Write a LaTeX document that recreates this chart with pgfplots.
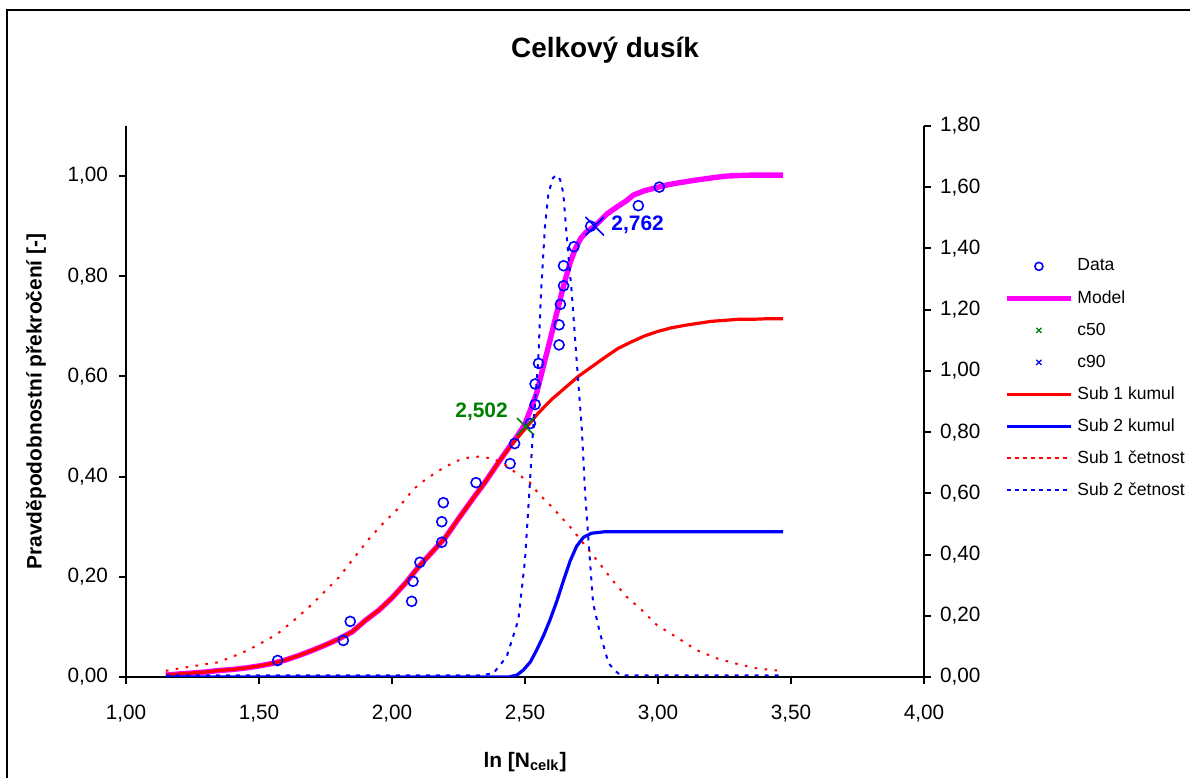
\documentclass[border=0pt]{standalone}
\usepackage{fontspec}
\setmainfont{Liberation Sans}
\usepackage{pgfplots}
\pgfplotsset{compat=1.18}

\definecolor{xlmagenta}{RGB}{255,0,255}
\definecolor{xlgreen}{RGB}{0,128,0}

\pgfplotsset{
  legline/.style={legend image code/.code={\draw[##1] (0bp,0bp) -- (32bp,0bp);}},
  legmark/.style={legend image code/.code={\draw[##1] plot coordinates {(16bp,0bp)};}},
  excelbase/.style={
    scale only axis, width=399bp, height=275.5bp,
    at={(63bp,50.5bp)}, anchor=south west,
    xmin=1, xmax=4, ymin=0,
    axis line style={line width=1bp, black},
    tick style={line width=1bp, black},
    ticklabel style={font=\fontsize{10.4}{12}\selectfont},
    scaled ticks=false,
    /pgf/number format/assume math mode=true,
    /pgf/number format/use comma,
    /pgf/number format/fixed,
    /pgf/number format/fixed zerofill,
    /pgf/number format/precision=2,
  },
}

\begin{document}
\begin{tikzpicture}
\useasboundingbox (0bp,0bp) rectangle (595bp,389bp);
\draw[line width=1bp] (3.5bp,-10bp) -- (3.5bp,384bp) -- (610bp,384bp);

% primary axis: probability of exceedance
\begin{axis}[excelbase,
  ymax=1.1,
  axis x line*=bottom, axis y line*=left,
  tick align=outside, major tick length=3.5bp,
  xtick={1,1.5,2,2.5,3,3.5,4},
  ytick={0,0.2,0.4,0.6,0.8,1},
  xticklabel style={yshift=-6.8bp},
  yticklabel style={xshift=-2bp},
  title={Celkový dusík},
  every axis title shift=0pt,
  title style={at={(axis description cs:0.6003,1.138)}, anchor=center,
    font=\bfseries\fontsize{14}{17}\selectfont},
  xlabel={ln [N\textsubscript{celk}]},
  xlabel style={at={(axis description cs:0.5,-0.1543)}, anchor=center,
    font=\bfseries\fontsize{10.5}{12.6}\selectfont},
  ylabel={Pravděpodobnostní překročení [-]},
  ylabel style={at={(axis description cs:-0.1128,0.5)}, anchor=center,
    font=\bfseries\fontsize{10.5}{12.6}\selectfont},
  legend cell align=left,
  legend style={at={(1.1003,0.775)}, anchor=north west, draw=none, fill=none,
    inner sep=0pt, row sep=0pt, column sep=2bp,
    font=\fontsize{8.8}{10.5}\selectfont,
    nodes={inner sep=0pt, minimum height=16bp}},
  legend entries={Data, Model, c50, c90, Sub 1 kumul, Sub 2 kumul, Sub 1 četnost, Sub 2 četnost},
]
\addlegendimage{legmark, blue, mark=o, mark size=2bp, line width=0.8bp}
\addlegendimage{legline, xlmagenta, line width=2.5bp}
\addlegendimage{legmark, xlgreen, mark=x, mark size=1.8bp, line width=0.6bp}
\addlegendimage{legmark, blue, mark=x, mark size=1.8bp, line width=0.6bp}
\addlegendimage{legline, red, line width=1.6bp}
\addlegendimage{legline, blue, line width=1.6bp}
\addlegendimage{legline, red, line width=1bp, dash pattern=on 2bp off 2bp}
\addlegendimage{legline, blue, line width=1bp, dash pattern=on 2bp off 2bp}

% Model
\addplot[xlmagenta, line width=2.7bp, line join=round, no marks, forget plot] coordinates {
(1.15,0.004)(1.20,0.006)(1.25,0.008)(1.30,0.010)(1.35,0.013)(1.40,0.015)
(1.45,0.018)(1.50,0.022)(1.55,0.027)(1.60,0.034)(1.65,0.043)(1.70,0.053)
(1.75,0.064)(1.80,0.076)(1.85,0.090)(1.90,0.113)(1.95,0.133)(2.00,0.158)
(2.05,0.187)(2.10,0.220)(2.15,0.249)(2.20,0.278)(2.25,0.316)(2.30,0.353)
(2.35,0.389)(2.40,0.428)(2.45,0.466)(2.47,0.480)(2.50,0.505)(2.52,0.533)
(2.544,0.567)(2.569,0.620)(2.594,0.672)(2.619,0.726)(2.644,0.779)(2.669,0.826)
(2.69,0.856)(2.71,0.876)(2.73,0.888)(2.762,0.900)(2.807,0.924)(2.85,0.940)
(2.882,0.951)(2.907,0.962)(2.95,0.971)(2.995,0.977)(3.04,0.983)(3.083,0.987)
(3.13,0.991)(3.17,0.994)(3.21,0.997)(3.258,1.000)(3.30,1.001)(3.358,1.002)
(3.47,1.002)
};
% Sub 1 kumul
\addplot[red, line width=1.6bp, line join=round, no marks, forget plot] coordinates {
(1.15,0.004)(1.20,0.006)(1.25,0.008)(1.30,0.010)(1.35,0.013)(1.40,0.015)
(1.45,0.018)(1.50,0.022)(1.55,0.027)(1.60,0.034)(1.65,0.043)(1.70,0.053)
(1.75,0.064)(1.80,0.076)(1.85,0.090)(1.90,0.113)(1.95,0.133)(2.00,0.158)
(2.05,0.187)(2.10,0.220)(2.15,0.249)(2.20,0.278)(2.25,0.316)(2.30,0.353)
(2.35,0.389)(2.40,0.428)(2.45,0.464)(2.50,0.495)(2.55,0.527)(2.60,0.554)
(2.65,0.577)(2.70,0.600)(2.75,0.619)(2.80,0.638)(2.85,0.656)(2.90,0.669)
(2.95,0.681)(3.00,0.690)(3.05,0.697)(3.10,0.702)(3.15,0.706)(3.20,0.710)
(3.25,0.712)(3.30,0.714)(3.35,0.714)(3.40,0.715)(3.47,0.715)
};
% Sub 2 kumul
\addplot[blue, line width=1.6bp, line join=round, no marks, forget plot] coordinates {
(1.15,0.000)(2.44,0.000)(2.47,0.004)(2.494,0.014)(2.52,0.030)(2.544,0.054)
(2.57,0.083)(2.594,0.114)(2.62,0.152)(2.645,0.193)(2.67,0.232)(2.694,0.261)
(2.72,0.279)(2.75,0.287)(2.80,0.290)(3.47,0.290)
};
% Data
\addplot[only marks, mark=o, mark size=2.5bp, blue, line width=0.8bp, forget plot] coordinates {
(1.570,0.033)(1.817,0.073)(1.843,0.111)(2.074,0.151)(2.079,0.191)
(2.105,0.229)(2.187,0.269)(2.187,0.310)(2.193,0.348)(2.316,0.388)
(2.444,0.426)(2.461,0.466)(2.520,0.506)(2.538,0.544)(2.538,0.585)
(2.551,0.626)(2.628,0.663)(2.628,0.703)(2.633,0.744)(2.645,0.781)
(2.645,0.821)(2.684,0.859)(2.747,0.900)(2.926,0.941)(3.005,0.978)
};
% c50, c90
\addplot[only marks, mark=x, mark size=6bp, xlgreen, line width=0.8bp, forget plot] coordinates {(2.502,0.5)};
\addplot[only marks, mark=x, mark size=6.5bp, blue, line width=0.8bp, forget plot] coordinates {(2.762,0.9)};
\node[anchor=east, text=xlgreen, inner sep=0pt, xshift=-8.7bp, yshift=7.2bp,
  font=\bfseries\fontsize{10.5}{12}\selectfont] at (axis cs:2.502,0.5) {2,502};
\node[anchor=west, text=blue, inner sep=0pt, xshift=8.2bp, yshift=0.5bp,
  font=\bfseries\fontsize{10.5}{12}\selectfont] at (axis cs:2.762,0.9) {2,762};
\end{axis}

% secondary axis: frequencies
\begin{axis}[excelbase,
  ymax=1.8,
  axis y line*=right, axis x line=none,
  tick align=outside, major tick length=3.5bp,
  ytick={0,0.2,0.4,0.6,0.8,1,1.2,1.4,1.6,1.8},
  yticklabel style={xshift=1bp},
]
% Sub 1 cetnost
\addplot[red, line width=1bp, dash pattern=on 1.3bp off 3.7bp, no marks] coordinates {
(1.15,0.020)(1.20,0.028)(1.25,0.035)(1.30,0.042)(1.341,0.047)(1.40,0.066)
(1.454,0.086)(1.50,0.107)(1.566,0.139)(1.629,0.183)(1.69,0.230)(1.742,0.275)
(1.80,0.325)(1.848,0.379)(1.917,0.455)(1.97,0.505)(2.018,0.546)(2.08,0.613)
(2.13,0.648)(2.18,0.676)(2.24,0.705)(2.293,0.718)(2.33,0.720)(2.381,0.713)
(2.43,0.690)(2.469,0.665)(2.519,0.635)(2.55,0.600)(2.594,0.562)(2.669,0.491)
(2.744,0.410)(2.782,0.369)(2.828,0.317)(2.882,0.262)(2.939,0.219)(2.995,0.170)
(3.07,0.130)(3.145,0.088)(3.221,0.061)(3.296,0.043)(3.371,0.028)(3.452,0.021)
(3.47,0.020)
};
% Sub 2 cetnost
\addplot[blue, line width=1bp, dash pattern=on 2bp off 3bp, no marks] coordinates {
(1.15,0.005)(2.33,0.005)(2.381,0.012)(2.431,0.066)(2.475,0.186)(2.50,0.382)
(2.516,0.600)(2.531,0.818)(2.550,1.036)(2.560,1.253)(2.575,1.471)(2.588,1.580)
(2.605,1.630)(2.619,1.640)(2.632,1.625)(2.644,1.580)(2.659,1.417)(2.676,1.253)
(2.694,1.036)(2.713,0.818)(2.726,0.600)(2.744,0.382)(2.756,0.241)(2.782,0.143)
(2.814,0.045)(2.838,0.021)(2.86,0.005)(3.47,0.005)
};
\end{axis}
\end{tikzpicture}
\end{document}
